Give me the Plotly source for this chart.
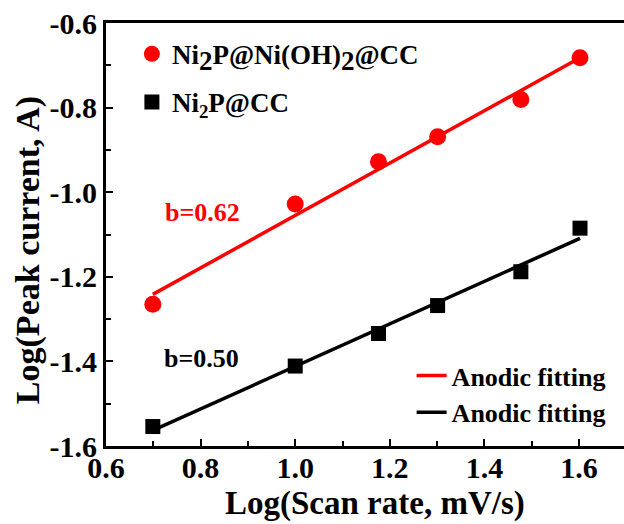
import numpy as np
import plotly.graph_objects as go

# Data (log10 scan rate vs log10 peak current)
log_scan = [0.699, 1.000, 1.176, 1.301, 1.477, 1.602]
ni2p_nioh_cc = [-1.265, -1.028, -0.928, -0.869, -0.781, -0.682]
ni2p_cc = [-1.554, -1.411, -1.334, -1.268, -1.188, -1.085]

x_ticks = [0.6, 0.8, 1.0, 1.2, 1.4, 1.6]
y_ticks = [-1.6, -1.4, -1.2, -1.0, -0.8, -0.6]

name_red = "Ni<sub><span style='font-size:27px'>2</span></sub>P@Ni(OH)<sub><span style='font-size:27px'>2</span></sub>@CC"
name_black = "Ni<sub>2</sub>P@CC"
fit_name = "Anodic fitting"
b_red = "b=0.62"
b_black = "b=0.50"

FONT = "Liberation Serif"

xs = np.array(log_scan)
fit_x = [min(log_scan), max(log_scan)]
pr = np.polyfit(xs, np.array(ni2p_nioh_cc), 1)
pb = np.polyfit(xs, np.array(ni2p_cc), 1)
fit_red = list(np.polyval(pr, fit_x))
fit_black = list(np.polyval(pb, fit_x))

fig = go.Figure()
fig.add_trace(go.Scatter(x=log_scan, y=ni2p_nioh_cc, mode="markers", name=name_red,
                         marker=dict(symbol="circle", size=17, color="#FF0000"),
                         legend="legend", legendgroup="a"))
fig.add_trace(go.Scatter(x=log_scan, y=ni2p_cc, mode="markers", name=name_black,
                         marker=dict(symbol="square", size=15, color="#000000"),
                         legend="legend", legendgroup="b"))
fig.add_trace(go.Scatter(x=fit_x, y=fit_red, mode="lines", name=fit_name,
                         line=dict(color="#FF0000", width=3.5), legend="legend2"))
fig.add_trace(go.Scatter(x=fit_x, y=fit_black, mode="lines", name=fit_name,
                         line=dict(color="#000000", width=3.5), legend="legend2"))

fig.add_annotation(x=0.805, y=-1.049, text="<b>%s</b>" % b_red, showarrow=False,
                   font=dict(family=FONT, size=26, color="#FF0000"))
fig.add_annotation(x=0.801, y=-1.392, text="<b>%s</b>" % b_black, showarrow=False,
                   font=dict(family=FONT, size=26, color="#000000"))

# axis titles
fig.add_annotation(xref="paper", yref="paper", x=0.519, y=-0.137, yanchor="middle",
                   text="<b>Log(Scan rate, mV/s)</b>", showarrow=False,
                   font=dict(family=FONT, size=33, color="#000000"))
fig.add_annotation(xref="paper", yref="paper", x=-0.1506, y=0.463, xanchor="center",
                   textangle=-90, text="<b>Log(Peak current, A)</b>", showarrow=False,
                   font=dict(family=FONT, size=34, color="#000000"))

axis_common = dict(showline=True, linewidth=3, linecolor="#000000", ticks="inside",
                   ticklen=7, tickwidth=2, tickcolor="#000000", showgrid=False,
                   zeroline=False,
                   tickfont=dict(family=FONT, size=30, color="#000000", weight="bold"))

fig.update_xaxes(range=[0.6, 1.695], tickvals=x_ticks,
                 ticktext=["%.1f" % v for v in x_ticks], mirror=True,
                 ticklabelstandoff=-7,
                 minor=dict(ticks="inside", ticklen=5, tickwidth=2, tickcolor="#000000", dtick=0.1),
                 **axis_common)
fig.update_yaxes(range=[-1.6, -0.6], tickvals=y_ticks,
                 ticktext=["%.1f" % v for v in y_ticks],
                 minor=dict(ticks="inside", ticklen=5, tickwidth=2, tickcolor="#000000", dtick=0.1),
                 **axis_common)

fig.update_layout(
    width=624, height=524,
    margin=dict(l=106, r=0, t=23, b=78),
    paper_bgcolor="#FFFFFF", plot_bgcolor="#FFFFFF",
    font=dict(family=FONT, color="#000000"),
    showlegend=True,
    legend=dict(x=0.05, y=0.984, xanchor="left", yanchor="top", bgcolor="rgba(0,0,0,0)",
                font=dict(family=FONT, size=27, color="#000000", weight="bold"),
                tracegroupgap=10, itemsizing="trace"),
    legend2=dict(x=0.59, y=0.222, xanchor="left", yanchor="top", bgcolor="rgba(0,0,0,0)",
                 font=dict(family=FONT, size=26, color="#000000", weight="bold"),
                 tracegroupgap=0),
)

fig.write_html("out.html")
